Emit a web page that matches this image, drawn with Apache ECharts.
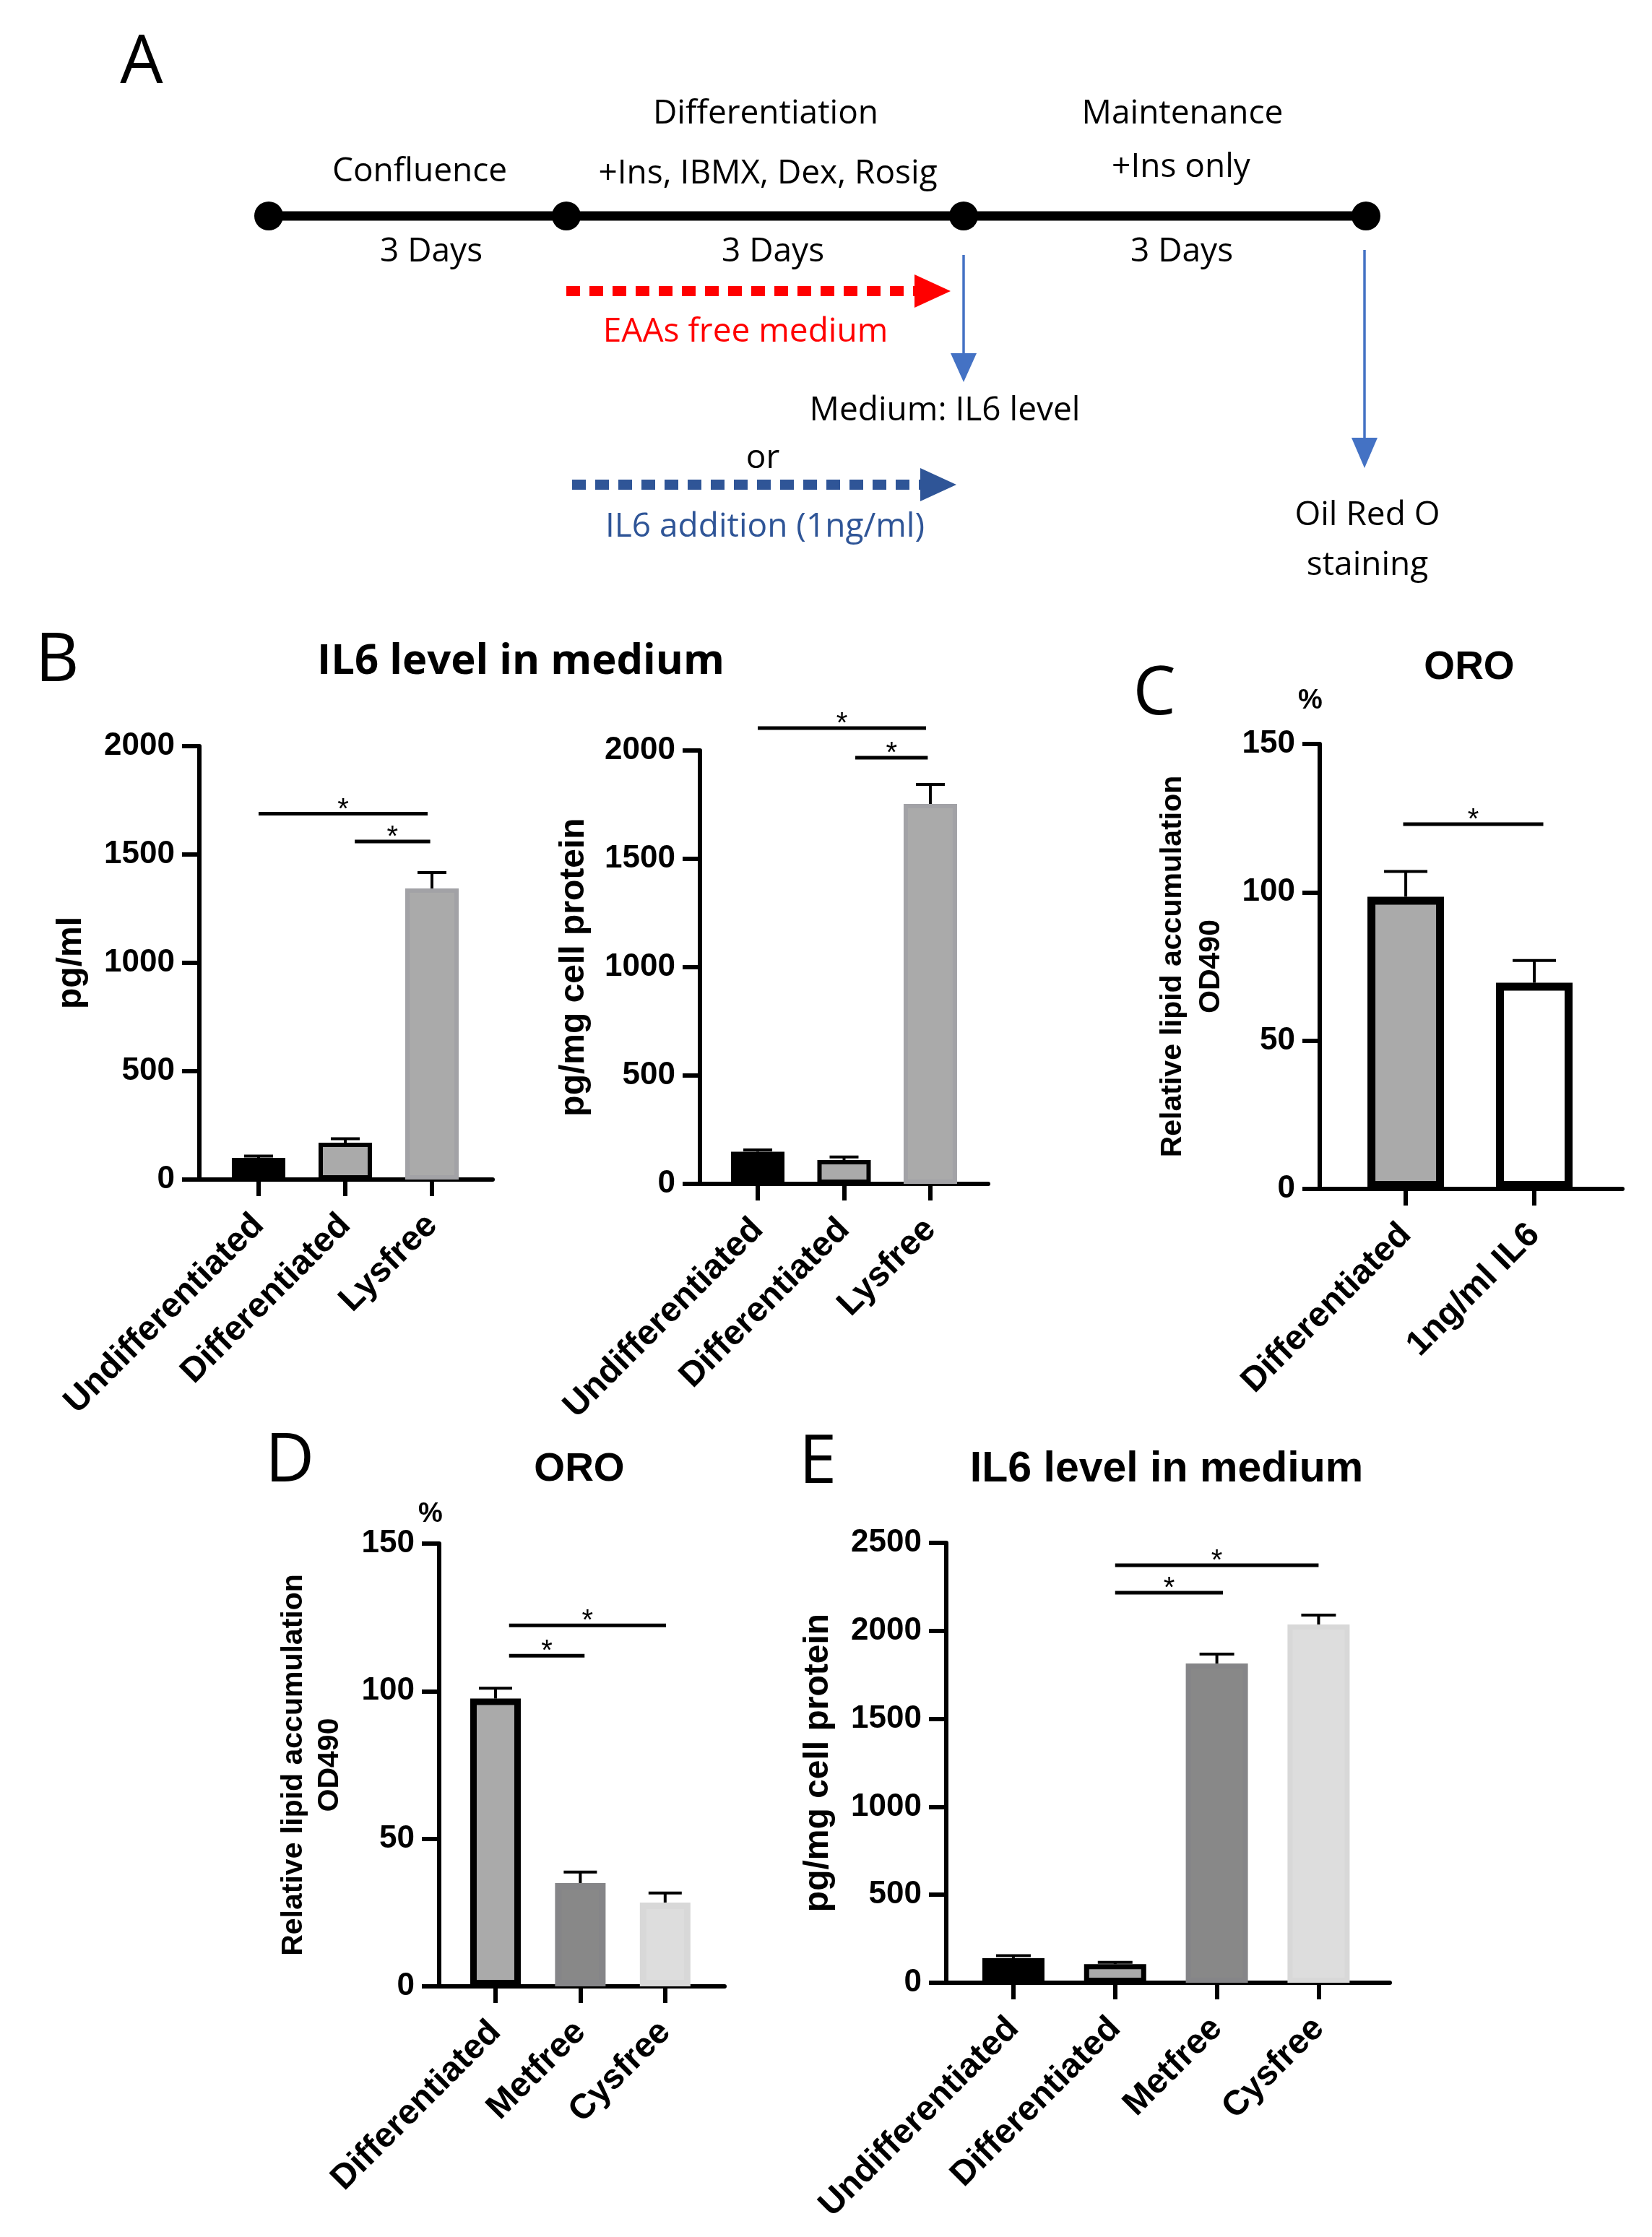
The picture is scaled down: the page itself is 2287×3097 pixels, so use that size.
<!DOCTYPE html>
<html><head><meta charset="utf-8">
<script src="https://cdn.jsdelivr.net/npm/echarts@6/dist/echarts.min.js"></script>
<style>html,body{margin:0;padding:0;background:#fff}#c{width:2287px;height:3097px}</style>
</head><body><div id="c"></div>
<script>
// ---------------- data ----------------
const catsB = ['Undifferentiated', 'Differentiated', 'Lysfree'];
const b1Mean = [100, 170, 1343];
const b1Err = [8, 18, 74];
const b1Sig = [[1, 2.95, 1688], [2.11, 2.98, 1560]];   // [from, to, height]

const b2Mean = [148, 110, 1753];
const b2Err = [9, 14, 90];
const b2Sig = [[1, 2.95, 2103], [2.13, 2.97, 1967]];

const catsC = ['Differentiated', '1ng/ml IL6'];
const cMean = [98.5, 69.5];
const cErr = [8.5, 7.5];
const cSig = [[0.98, 2.07, 123]];

const catsD = ['Differentiated', 'Metfree', 'Cysfree'];
const dMean = [97.5, 35, 28.4];
const dErr = [3.5, 3.7, 3.2];
const dSig = [[1.16, 2.05, 112], [1.16, 3.01, 122.3]];

const catsE = ['Undifferentiated', 'Differentiated', 'Metfree', 'Cysfree'];
const eMean = [140, 106, 1814, 2036];
const eErr = [14, 10, 54, 53];
const eSig = [[2.0, 3.06, 2217], [2.0, 4.0, 2373]];

const yTicksIL6 = [0, 500, 1000, 1500, 2000];
const yTicksORO = [0, 50, 100, 150];
const yTicksE = [0, 500, 1000, 1500, 2000, 2500];

// ---------------- styles ----------------
const BLACK = {color: '#000', borderColor: '#000'};
const GRAY_BOX = {color: '#AAAAAA', borderColor: '#000'};
const GRAY = {color: '#AAAAAA', borderColor: '#A2A2A6'};
const WHITE_BOX = {color: '#FFFFFF', borderColor: '#000'};
const DARK = {color: '#888888', borderColor: '#858588'};
const LIGHT = {color: '#DDDDDD', borderColor: '#D8D8D8'};

const FONT = '"Liberation Sans", Arial, sans-serif';

const option = {
  backgroundColor: '#fff',
  animation: false,
  grid: [], xAxis: [], yAxis: [], series: [],
  graphic: {elements: []}
};

function errRender(capHalf) {
  return function (params, api) {
    const x = api.value(0), m = api.value(1), e = api.value(2);
    const p0 = api.coord([x, m]);
    const p1 = api.coord([x, m + e]);
    return {type: 'group', children: [
      {type: 'line', shape: {x1: p0[0], y1: p0[1], x2: p1[0], y2: p1[1]}, style: {stroke: '#000', lineWidth: 4}},
      {type: 'line', shape: {x1: p1[0] - capHalf, y1: p1[1], x2: p1[0] + capHalf, y2: p1[1]}, style: {stroke: '#000', lineWidth: 4}}
    ]};
  };
}
function sigRender(params, api) {
  const a = api.coord([api.value(0), api.value(2)]);
  const b = api.coord([api.value(1), api.value(2)]);
  return {type: 'group', children: [
    {type: 'line', shape: {x1: a[0], y1: a[1], x2: b[0], y2: b[1]}, style: {stroke: '#000', lineWidth: 5}},
    {type: 'text', x: (a[0] + b[0]) / 2, y: a[1] - 5,
     style: {text: '*', font: '40px ' + FONT, fill: '#000', align: 'center', verticalAlign: 'middle'}}
  ]};
}

function addPanel(p) {
  const i = option.grid.length;
  option.grid.push({left: p.left, top: p.top, width: p.width, height: p.height});
  const pos = p.cats.map((c, k) => k + 1);
  option.xAxis.push({
    type: 'value', gridIndex: i, min: p.xMin, max: p.xMax,
    axisLine: {show: true, onZero: false, lineStyle: {color: '#000', width: 6}},
    axisTick: {show: true, length: 23, lineStyle: {color: '#000', width: 6}, customValues: pos},
    axisLabel: {show: true, customValues: pos, formatter: v => p.cats[Math.round(v) - 1] || '',
      rotate: 45, margin: 56, color: '#000', fontFamily: FONT, fontWeight: 'bold', fontSize: 48},
    splitLine: {show: false}
  });
  option.yAxis.push({
    type: 'value', gridIndex: i, min: 0, max: p.yMax, interval: p.yInterval,
    axisLine: {show: true, lineStyle: {color: '#000', width: 6}},
    axisTick: {show: true, length: 24, lineStyle: {color: '#000', width: 6}},
    axisLabel: {margin: 34, color: '#000', fontFamily: FONT, fontWeight: 'bold', fontSize: 44,
      formatter: v => String(v)},
    splitLine: {show: false},
    name: p.yName, nameLocation: 'middle', nameGap: p.nameGap,
    nameTextStyle: {color: '#000', fontFamily: FONT, fontWeight: 'bold', fontSize: p.nameSize, lineHeight: p.nameLH}
  });
  option.series.push({
    type: 'bar', xAxisIndex: i, yAxisIndex: i, barWidth: p.barWidth, z: 2, silent: true,
    data: p.mean.map((v, k) => ({value: [k + 1, v],
      itemStyle: Object.assign({borderWidth: p.border}, p.styles[k])}))
  });
  option.series.push({
    type: 'custom', xAxisIndex: i, yAxisIndex: i, z: 1, silent: true, clip: false,
    renderItem: errRender(p.capHalf), encode: {x: 0, y: 1},
    data: p.mean.map((v, k) => [k + 1, v, p.err[k]])
  });
  option.series.push({
    type: 'custom', xAxisIndex: i, yAxisIndex: i, z: 4, silent: true, clip: false,
    renderItem: sigRender, encode: {x: [0, 1], y: 2},
    data: p.sig
  });
}

addPanel({left: 276, top: 1033, width: 406, height: 600, xMin: 0.317, xMax: 3.70,
  yMax: yTicksIL6[yTicksIL6.length - 1], yInterval: yTicksIL6[1],
  cats: catsB, mean: b1Mean, err: b1Err, sig: b1Sig, yName: 'pg/ml', nameGap: 149, nameSize: 48, nameLH: 56,
  barWidth: 74, border: 6, capHalf: 20, styles: [BLACK, GRAY_BOX, GRAY]});
addPanel({left: 969, top: 1039, width: 399, height: 600, xMin: 0.33, xMax: 3.67,
  yMax: yTicksIL6[yTicksIL6.length - 1], yInterval: yTicksIL6[1],
  cats: catsB, mean: b2Mean, err: b2Err, sig: b2Sig, yName: 'pg/mg cell protein', nameGap: 146, nameSize: 48, nameLH: 56,
  barWidth: 74, border: 6, capHalf: 20, styles: [BLACK, GRAY_BOX, GRAY]});
addPanel({left: 1827, top: 1030, width: 419, height: 616, xMin: 0.331, xMax: 2.685,
  yMax: yTicksORO[yTicksORO.length - 1], yInterval: yTicksORO[1],
  cats: catsC, mean: cMean, err: cErr, sig: cSig, yName: 'Relative lipid accumulation\nOD490', nameGap: 124, nameSize: 41, nameLH: 53,
  barWidth: 106, border: 11, capHalf: 30, styles: [GRAY_BOX, WHITE_BOX]});
addPanel({left: 608, top: 2137, width: 395, height: 613, xMin: 0.336, xMax: 3.70,
  yMax: yTicksORO[yTicksORO.length - 1], yInterval: yTicksORO[1],
  cats: catsD, mean: dMean, err: dErr, sig: dSig, yName: 'Relative lipid accumulation\nOD490', nameGap: 126, nameSize: 41, nameLH: 50,
  barWidth: 70, border: 9, capHalf: 23, styles: [GRAY_BOX, DARK, LIGHT]});
addPanel({left: 1310, top: 2136, width: 614, height: 609, xMin: 0.34, xMax: 4.70,
  yMax: yTicksE[yTicksE.length - 1], yInterval: yTicksE[1],
  cats: catsE, mean: eMean, err: eErr, sig: eSig, yName: 'pg/mg cell protein', nameGap: 149, nameSize: 48, nameLH: 56,
  barWidth: 86, border: 7, capHalf: 24, styles: [BLACK, GRAY_BOX, DARK, LIGHT]});

// ---------------- free text & schematic ----------------
const G = option.graphic.elements;
function T(text, x, y, font, fill) {
  G.push({type: 'text', x: x, y: y, silent: true,
    style: {text: text, font: font, fill: fill || '#000', align: 'center', verticalAlign: 'middle',
            textAlign: 'center', textVerticalAlign: 'middle'}});
}
const LETTER = '94px "Open Sans", sans-serif';
const SCH = '46px "Open Sans", sans-serif';
T('A', 196, 88, LETTER);
T('B', 79, 916, LETTER);
T('C', 1598, 962, LETTER);
T('D', 401, 2024, LETTER);
T('E', 1132, 2026, LETTER);

T('IL6 level in medium', 721, 916, 'bold 58px "Open Sans", sans-serif');
T('ORO', 2034, 925, 'bold 55px ' + FONT);
T('ORO', 802, 2035, 'bold 55px ' + FONT);
T('IL6 level in medium', 1615, 2035, 'bold 59px ' + FONT);
T('%', 1814, 971, 'bold 38px ' + FONT);
T('%', 596, 2097, 'bold 38px ' + FONT);

// panel A schematic
const stageX = [372, 784, 1334, 1891];
G.push({type: 'line', silent: true, shape: {x1: stageX[0], y1: 299, x2: stageX[3], y2: 299}, style: {stroke: '#000', lineWidth: 13}});
stageX.forEach(x => G.push({type: 'circle', silent: true, shape: {cx: x, cy: 299, r: 20}, style: {fill: '#000'}}));
T('Confluence', 581, 238, SCH);
T('Differentiation', 1060, 158, SCH);
T('+Ins, IBMX, Dex, Rosig', 1063, 241, SCH);
T('Maintenance', 1637, 158, SCH);
T('+Ins only', 1635, 232, SCH);
T('3 Days', 597, 349, SCH);
T('3 Days', 1070, 349, SCH);
T('3 Days', 1636, 349, SCH);
// red dashed arrow
G.push({type: 'line', silent: true, shape: {x1: 784, y1: 403, x2: 1268, y2: 403}, style: {stroke: '#FF0000', lineWidth: 14, lineDash: [19, 13]}});
G.push({type: 'polygon', silent: true, shape: {points: [[1266, 380], [1316, 403], [1266, 426]]}, style: {fill: '#FF0000'}});
T('EAAs free medium', 1032, 460, SCH, '#FF0000');
// blue arrow 1
G.push({type: 'line', silent: true, shape: {x1: 1334, y1: 353, x2: 1334, y2: 492}, style: {stroke: '#4472C4', lineWidth: 3.5}});
G.push({type: 'polygon', silent: true, shape: {points: [[1316, 489], [1352, 489], [1334, 529]]}, style: {fill: '#4472C4'}});
T('Medium: IL6 level', 1308, 569, SCH);
T('or', 1056, 635, SCH);
// dark blue dashed arrow
G.push({type: 'line', silent: true, shape: {x1: 792, y1: 671, x2: 1276, y2: 671}, style: {stroke: '#2F5597', lineWidth: 14, lineDash: [19, 13]}});
G.push({type: 'polygon', silent: true, shape: {points: [[1274, 648], [1324, 671], [1274, 694]]}, style: {fill: '#2F5597'}});
T('IL6 addition (1ng/ml)', 1059, 730, SCH, '#2F5597');
// blue arrow 2
G.push({type: 'line', silent: true, shape: {x1: 1889, y1: 346, x2: 1889, y2: 610}, style: {stroke: '#4472C4', lineWidth: 3.5}});
G.push({type: 'polygon', silent: true, shape: {points: [[1871, 606], [1907, 606], [1889, 648]]}, style: {fill: '#4472C4'}});
T('Oil Red O', 1893, 714, SCH);
T('staining', 1893, 783, SCH);

const chart = echarts.init(document.getElementById('c'), null, {renderer: 'canvas'});
chart.setOption(option);
</script>
</body></html>
